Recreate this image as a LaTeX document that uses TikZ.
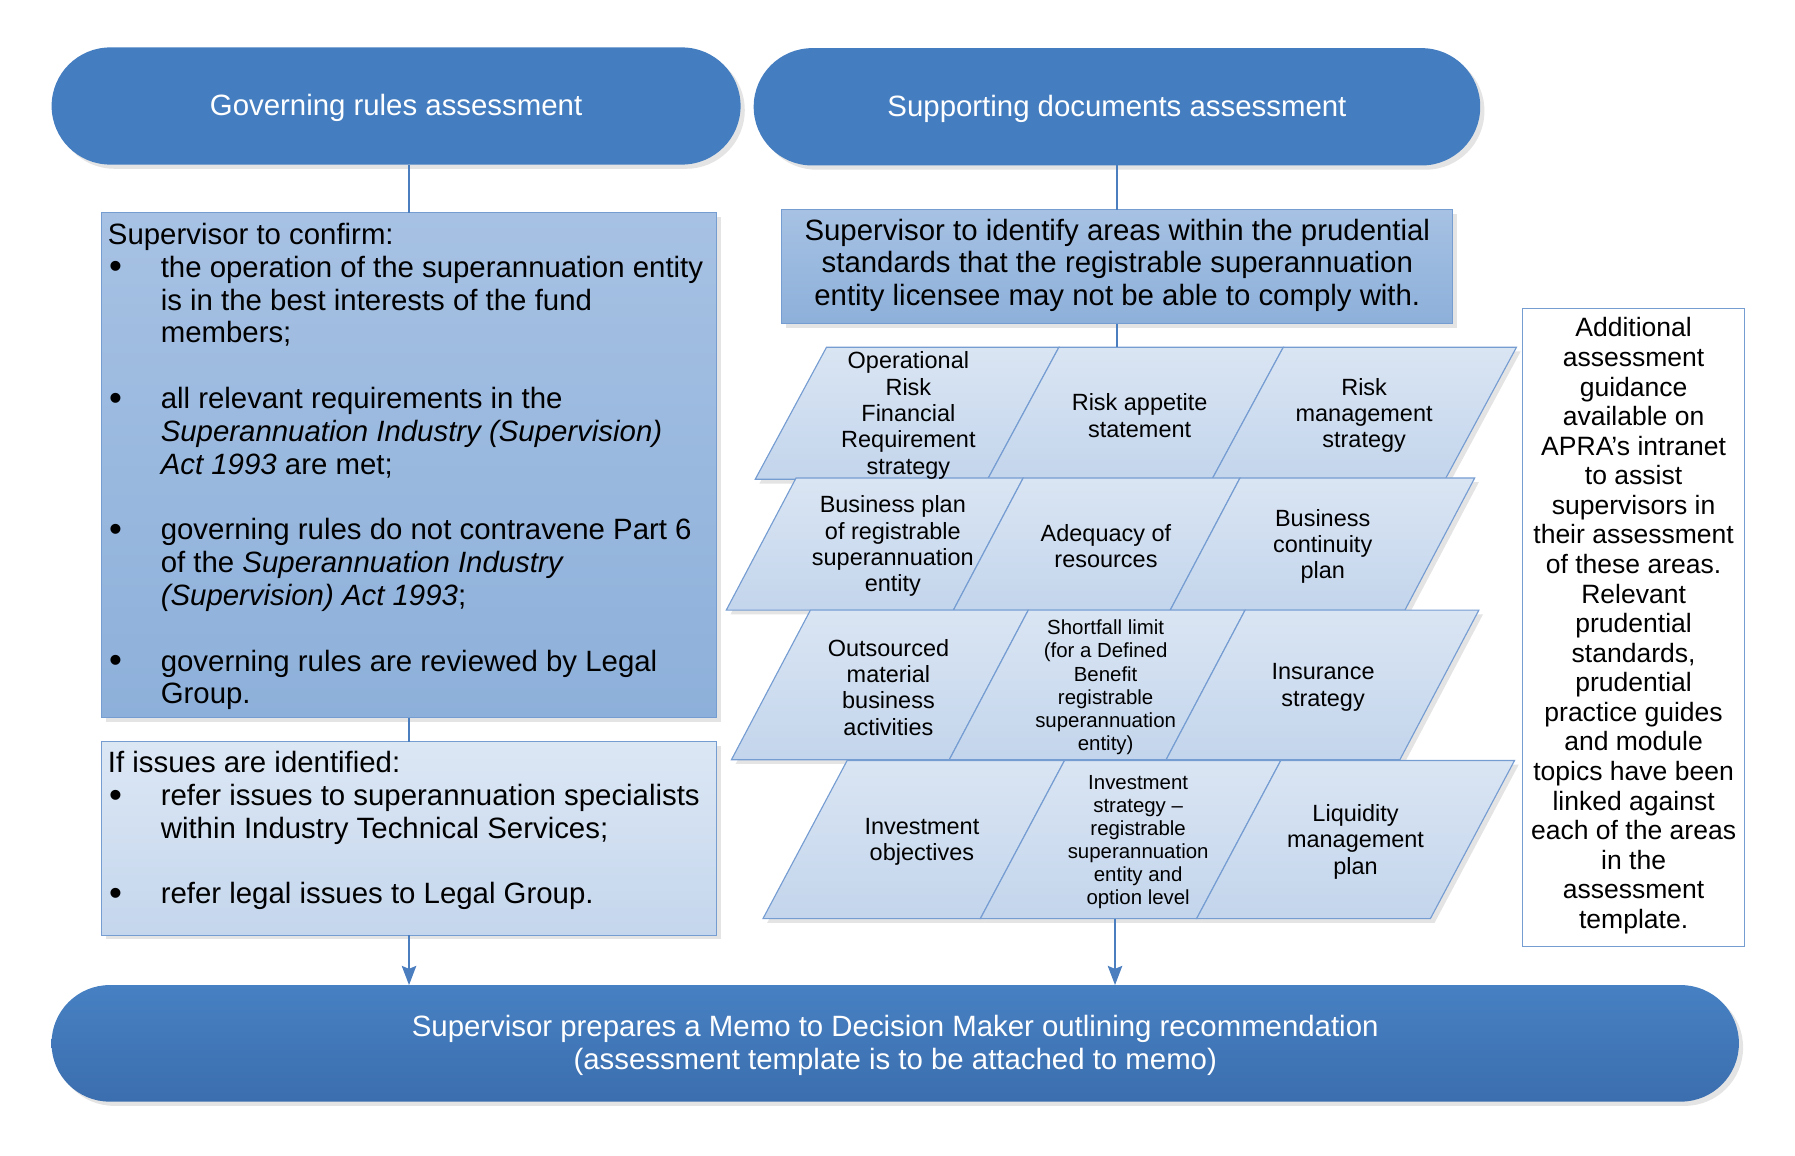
\documentclass[tikz,border=0pt]{standalone}
\usepackage{fontspec}
\setmainfont{Liberation Sans}
\usetikzlibrary{arrows.meta,shadows}
\definecolor{pillc}{RGB}{69,126,192}
\definecolor{pbtop}{RGB}{71,129,195}
\definecolor{pbbot}{RGB}{59,110,174}
\definecolor{bAtop}{RGB}{166,193,227}
\definecolor{bAbot}{RGB}{141,176,218}
\definecolor{bBtop}{RGB}{220,231,244}
\definecolor{bBbot}{RGB}{196,214,237}
\definecolor{ptop}{RGB}{218,229,243}
\definecolor{pbot}{RGB}{195,213,236}
\definecolor{edgec}{RGB}{118,157,210}
\definecolor{linec}{RGB}{74,126,190}
\definecolor{shadowc}{RGB}{228,228,228}
\newcommand\mainf{\fontsize{15.4}{17.2}\selectfont}
\newcommand\parf{\fontsize{12.3}{13.8}\selectfont}
\newcommand\smallpf{\fontsize{10.7}{12.1}\selectfont}
\newcommand\notef{\fontsize{13.9}{15.5}\selectfont}
\newcommand\bu{\makebox[27.7pt][l]{\hspace{0.6pt}\raisebox{-0.9pt}{\scalebox{1.25}{•}}}}
\newcommand\ii{\makebox[27.7pt]{}}
\begin{document}
\begin{tikzpicture}[x=0.6pt,y=-0.6pt,
  every node/.style={inner sep=0pt,outer sep=0pt},
  shad/.style={drop shadow={shadow xshift=2.2pt,shadow yshift=-2.2pt,fill=shadowc,opacity=1}},
  pill/.style={rounded corners=30.7pt,fill=pillc,text=white,font=\mainf,shad},
  boxA/.style={draw=edgec,line width=0.6pt,top color=bAtop,bottom color=bAbot,shad},
  boxB/.style={draw=edgec,line width=0.6pt,top color=bBtop,bottom color=bBbot,shad},
  notebox/.style={draw=edgec,line width=0.6pt,fill=white},
  cell/.style={draw=edgec,line width=0.6pt,top color=ptop,bottom color=pbot},
  ptext/.style={font=\parf,align=center},
  pstext/.style={font=\smallpf,align=center},
  conn/.style={draw=linec,line width=1.2pt},
  arr/.style={conn,-{Stealth[length=10pt,width=7.5pt,inset=1.5pt]}}
]
\useasboundingbox (0,0) rectangle (1568,1009);

% top pills
\node[pill,minimum width=361.1pt,minimum height=61.4pt] (gr) at (346,92.6) {};
\node[pill,minimum width=380.8pt,minimum height=61.5pt] (sd) at (975.7,93.3) {};
\node[text=white,font=\mainf] (grt) at (346,94) {Governing rules assessment};
\node[text=white,font=\mainf] (sdt) at (975.7,94.7) {Supporting documents assessment};

% left boxes
\node[boxA,minimum width=322.2pt,minimum height=264.7pt] (b1) at (357.3,406.4) {};
\node[boxB,minimum width=322.2pt,minimum height=101.4pt] (b2) at (357.3,732.5) {};
\node[font=\mainf,anchor=base west] (t1) at (94.3,213.5) {%
\begin{tabular}[t]{@{}l@{}l@{}}
\multicolumn{2}{@{}l@{}}{Supervisor to confirm:}\\
\bu & the operation of the superannuation entity\\
\ii & is in the best interests of the fund\\
\ii & members;\\
 & \\
\bu & all relevant requirements in the\\
\ii & \textit{Superannuation Industry (Supervision)}\\
\ii & \textit{Act 1993} are met;\\
 & \\
\bu & governing rules do not contravene Part 6\\
\ii & of the \textit{Superannuation Industry}\\
\ii & \textit{(Supervision) Act 1993};\\
 & \\
\bu & governing rules are reviewed by Legal\\
\ii & Group.
\end{tabular}};
\node[font=\mainf,anchor=base west] (t2) at (94.3,675) {%
\begin{tabular}[t]{@{}l@{}l@{}}
\multicolumn{2}{@{}l@{}}{If issues are identified:}\\
\bu & refer issues to superannuation specialists\\
\ii & within Industry Technical Services;\\
 & \\
\bu & refer legal issues to Legal Group.
\end{tabular}};

% right top box
\node[boxA,minimum width=351.6pt,minimum height=59.7pt] (br) at (976,233) {};
\node[font=\mainf,align=center] (tr) at (976,231.8) {Supervisor to identify areas within the prudential\\standards that the registrable superannuation\\entity licensee may not be able to comply with.};

% parallelogram grid: shadows then cells
\foreach \T/\B/\d/\a/\b in {
  303.3/418.7/62.3/722/925, 303.3/418.7/62.3/925/1121, 303.3/418.7/62.3/1121/1324.7,
  417.5/533/61/695.4/893.8, 417.5/533/61/893.8/1083.2, 417.5/533/61/1083.2/1288.2,
  533/663.7/69/707.9/898.2, 533/663.7/69/898.2/1087.6, 533/663.7/69/1087.6/1291.8,
  664.3/802.4/73.5/740/929.9, 664.3/802.4/73.5/929.9/1118.8, 664.3/802.4/73.5/1118.8/1323}
  {\fill[shadowc,xshift=2.2pt,yshift=-2.2pt] (\a,\T) -- (\b,\T) -- (\b-\d,\B) -- (\a-\d,\B) -- cycle;}
\foreach \T/\B/\d/\a/\b in {
  303.3/418.7/62.3/722/925, 303.3/418.7/62.3/925/1121, 303.3/418.7/62.3/1121/1324.7,
  417.5/533/61/695.4/893.8, 417.5/533/61/893.8/1083.2, 417.5/533/61/1083.2/1288.2,
  533/663.7/69/707.9/898.2, 533/663.7/69/898.2/1087.6, 533/663.7/69/1087.6/1291.8,
  664.3/802.4/73.5/740/929.9, 664.3/802.4/73.5/929.9/1118.8, 664.3/802.4/73.5/1118.8/1323}
  {\shadedraw[cell] (\a,\T) -- (\b,\T) -- (\b-\d,\B) -- (\a-\d,\B) -- cycle;}

\node[ptext] (c11) at (793.5,363) {Operational\\Risk\\Financial\\Requirement\\strategy};
\node[ptext] (c12) at (995.5,363) {Risk appetite\\statement};
\node[ptext] (c13) at (1191.6,363) {Risk\\management\\strategy};
\node[ptext] (c21) at (779.9,477.3) {Business plan\\of registrable\\superannuation\\entity};
\node[ptext] (c22) at (966.1,477.3) {Adequacy of\\resources};
\node[ptext] (c23) at (1155.4,477.3) {Business\\continuity\\plan};
\node[ptext] (c31) at (776.1,600.4) {Outsourced\\material\\business\\activities};
\node[pstext] (c32) at (965.8,600.4) {Shortfall limit\\(for a Defined\\Benefit\\registrable\\superannuation\\entity)};
\node[ptext] (c33) at (1155.7,600.4) {Insurance\\strategy};
\node[ptext] (c41) at (805.3,735.4) {Investment\\objectives};
\node[pstext] (c42) at (994.2,735.4) {Investment\\strategy –\\registrable\\superannuation\\entity and\\option level};
\node[ptext] (c43) at (1184.1,735.4) {Liquidity\\management\\plan};

\coordinate (gtop) at (976,303.3);
\coordinate (gbot) at (974,802.4);

% note box
\node[notebox,minimum width=116.2pt,minimum height=334.3pt] (nb) at (1427,547.9) {};
\node[font=\notef,align=center] (nt) at (1427,546.6) {Additional\\assessment\\guidance\\available on\\APRA’s intranet\\to assist\\supervisors in\\their assessment\\of these areas.\\Relevant\\prudential\\standards,\\prudential\\practice guides\\and module\\topics have been\\linked against\\each of the areas\\in the\\assessment\\template.};

% bottom pill
\node[rounded corners=30.5pt,top color=pbtop,bottom color=pbbot,shad,
      minimum width=884.4pt,minimum height=61.1pt] (pb) at (782,911.4) {};
\node[text=white,font=\mainf,align=center] (pbt) at (782,913.2)
  {Supervisor prepares a Memo to Decision Maker outlining recommendation\\(assessment template is to be attached to memo)};

% connectors
\draw[conn] (b1.north) -- (b1.north |- gr.south);
\draw[conn] (b1.south) -- (b2.north);
\draw[arr] (b2.south) -- (b2.south |- pb.north);
\draw[conn] (br.north) -- (br.north |- sd.south);
\draw[conn] (br.south) -- (gtop);
\draw[arr] (gbot) -- (gbot |- pb.north);
\end{tikzpicture}
\end{document}
